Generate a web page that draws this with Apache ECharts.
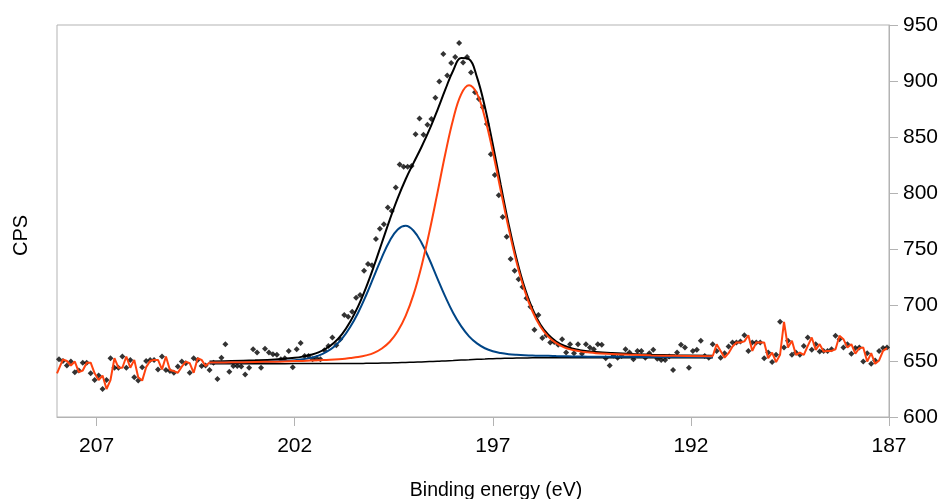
<!DOCTYPE html>
<html>
<head>
<meta charset="utf-8">
<script src="https://cdn.jsdelivr.net/npm/echarts@6/dist/echarts.min.js"></script>
<style>
html,body{margin:0;padding:0;background:#fff;}
#chart{width:944px;height:499px;}
</style>
</head>
<body>
<div id="chart"></div>
<script>
// Measured counts (CPS), one channel every 0.1 eV from 207.95 eV down to 187.05 eV
const counts = [
  651.5, 650, 646, 649.5, 640, 641.5, 648.5, 648.5, 639, 633,
  637, 625, 633, 652.5, 644, 644, 654, 644, 651, 635.5,
  632.5, 644.5, 650, 651, 651, 642.5, 654, 642, 641, 639.5,
  645, 649.5, 648, 639.5, 652.5, 651, 645.5, 646, 642, 648.5,
  634, 653, 665, 640.5, 645.5, 645.5, 645, 638, 644, 660.5,
  657.5, 644, 661, 657.5, 656, 655.5, 651.5, 652.5, 659, 644.5,
  660.5, 666, 654.5, 654.5, 651.5, 652.5, 651.5, 659.5, 663.5, 671,
  664, 669.5, 691, 689.5, 694, 706.5, 709, 730.5, 736.5, 735.5,
  759, 768, 772, 787, 784, 805, 825.5, 823.5, 823.5, 824,
  852.5, 866.5, 852, 861, 866, 885, 899.5, 924, 905, 916,
  921.5, 934, 916.5, 921.5, 907.5, 890, 884, 876.5, 861.5, 834.5,
  816, 798, 778.5, 761, 741, 730.5, 723, 716, 706, 698.5,
  678, 691, 670.5, 673, 666.5, 667, 664.5, 669.5, 657.5, 665,
  657, 665, 656.5, 665, 662, 660.5, 665, 664.5, 652.5, 646,
  655, 653, 654.5, 660.5, 657.5, 651.5, 659, 659, 653, 657,
  660, 652, 651, 651, 654, 642, 657.5, 664.5, 662, 644,
  659, 660, 668, 654.5, 653, 665, 659, 653, 657, 663,
  666.5, 666.5, 667.5, 673, 659, 666.5, 666.5, 666.5, 652.5, 657.5,
  649, 655.5, 685, 662, 668, 655.5, 657.5, 655.5, 663.5, 671,
  660, 665, 658.5, 659, 659, 660.5, 672.5, 669.5, 662, 665,
  656.5, 661.5, 662, 649.5, 657, 647.5, 650.5, 659, 661.5, 662
];
const startEnergy = 207.95;
const stepEnergy = 0.1;
const energy = counts.map((_, i) => +(startEnergy - stepEnergy * i).toFixed(2));

// orange trace value at the left plot edge
const traceLeftStart = 639;
// channel indices bounding the fit window (204.15 eV ... 191.45 eV)
const fitStart = 38;
const fitEnd = 165;

// Fit curves
const fitEnergy = [204.15, 203.6, 203.0, 202.5, 202.0, 201.8, 201.6, 201.4, 201.2, 201.0,
  200.8, 200.6, 200.4, 200.2, 200.0, 199.8, 199.6, 199.4, 199.2, 199.0,
  198.8, 198.6, 198.4, 198.2, 198.0, 197.8, 197.6, 197.4, 197.2, 197.0,
  196.8, 196.6, 196.4, 196.2, 196.0, 195.8, 195.6, 195.4, 195.2, 195.0,
  194.8, 194.6, 194.4, 194.0, 193.5, 193.0, 192.4, 191.45];
const background = [647.6, 647.6, 647.6, 647.6, 647.7, 647.7, 647.7, 647.7, 647.7, 647.7,
  647.7, 647.8, 647.8, 647.9, 648.0, 648.2, 648.3, 648.5, 648.7, 648.9,
  649.2, 649.5, 649.7, 650.1, 650.4, 650.8, 651.1, 651.5, 651.8, 652.1,
  652.3, 652.5, 652.6, 652.7, 652.8, 652.8, 652.9, 652.9, 652.9, 652.9,
  652.9, 652.9, 652.9, 653.0, 653.0, 653.0, 653.0, 653.0];
const peakOrange = [648.6, 648.8, 649.1, 649.4, 649.9, 650.1, 650.4, 650.6, 651.0, 651.3,
  651.8, 652.6, 653.5, 655.0, 657.3, 661.2, 667.2, 676.5, 690.3, 709.5,
  734.7, 765.4, 799.7, 834.8, 865.9, 888.0, 896.1, 888.7, 867.3, 836.8,
  802.3, 768.4, 738.1, 713.3, 694.4, 680.8, 671.8, 665.9, 662.2, 660.0,
  658.6, 657.7, 657.0, 656.3, 655.5, 655.0, 654.6, 654.2];
const peakBlue = [648.5, 648.8, 649.1, 649.6, 650.7, 651.5, 652.8, 654.8, 658.1, 663.0,
  670.2, 680.3, 693.1, 708.5, 725.5, 742.6, 757.4, 767.4, 770.7, 766.3,
  755.6, 740.6, 723.8, 707.5, 692.9, 681.1, 672.0, 665.7, 661.4, 658.7,
  657.1, 656.1, 655.5, 655.1, 654.9, 654.6, 654.6, 654.4, 654.3, 654.1,
  654.0, 653.9, 653.9, 653.8, 653.7, 653.6, 653.5, 653.4];
const envelope = [649.5, 650.0, 650.6, 651.4, 652.9, 653.9, 655.5, 657.7, 661.4, 666.6,
  674.3, 685.1, 698.8, 715.6, 734.8, 755.6, 776.3, 795.4, 812.3, 826.9,
  841.1, 856.5, 873.8, 892.2, 909.4, 920.5, 919.5, 903.5, 876.9, 843.4,
  807.1, 772.0, 741.0, 715.7, 696.5, 682.6, 673.5, 667.4, 663.6, 661.2,
  659.7, 658.7, 658.0, 657.1, 656.2, 655.6, 655.1, 654.6];

const xTicks = [187, 192, 197, 202, 207];
const xMin = 187, xMax = 208;
const yMin = 600, yMax = 950, yStep = 50;

const pair = (xs, ys) => xs.map((x, i) => [x, ys[i]]);
const scatterData = pair(energy, counts);

const orangeLeft = [[xMax, traceLeftStart]];
for (let i = 1; i < fitStart; i++) orangeLeft.push([energy[i], counts[i - 1]]);
orangeLeft.push([fitEnergy[0], peakOrange[0]]);
const orangeRight = [[fitEnergy[fitEnergy.length - 1], peakOrange[peakOrange.length - 1]]];
for (let i = fitEnd + 1; i < counts.length; i++) orangeRight.push([energy[i], counts[i - 1]]);

const FONT = '"Liberation Sans", Arial, sans-serif';
const AXIS_GRAY = '#b3b3b3';
const ORANGE = '#ff420e';
const BLUE = '#004586';

const chart = echarts.init(document.getElementById('chart'), null, {renderer: 'canvas'});
const lineBase = {type: 'line', showSymbol: false, symbol: 'none', silent: true, animation: false};

chart.setOption({
  animation: false,
  backgroundColor: '#ffffff',
  grid: {left: 57, right: 55, top: 25, bottom: 82, show: true, borderColor: AXIS_GRAY, borderWidth: 1,
         backgroundColor: 'transparent', containLabel: false, outerBoundsMode: 'none'},
  xAxis: {
    type: 'value', min: xMin, max: xMax, inverse: true,
    axisLine: {show: true, onZero: false, lineStyle: {color: AXIS_GRAY, width: 1}},
    axisTick: {show: true, length: 9, lineStyle: {color: AXIS_GRAY}, customValues: xTicks},
    axisLabel: {customValues: xTicks, margin: 19, fontSize: 21, color: '#000', fontFamily: FONT},
    splitLine: {show: false}
  },
  yAxis: {
    type: 'value', position: 'right', min: yMin, max: yMax, interval: yStep,
    axisLine: {show: true, onZero: false, lineStyle: {color: AXIS_GRAY, width: 1}},
    axisTick: {show: true, length: 9, lineStyle: {color: AXIS_GRAY}},
    axisLabel: {margin: 14, fontSize: 21, color: '#000', fontFamily: FONT},
    splitLine: {show: false}
  },
  graphic: [
    {type: 'text', x: 21, y: 235.5, rotation: Math.PI / 2,
     style: {text: 'CPS', font: '20px ' + FONT, fill: '#000', textAlign: 'center', textVerticalAlign: 'middle'}},
    {type: 'text', x: 496, y: 491,
     style: {text: 'Binding energy (eV)', font: '19.5px ' + FONT, fill: '#000', textAlign: 'center', textVerticalAlign: 'middle'}}
  ],
  series: [
    Object.assign({}, lineBase, {name: 'background', data: pair(fitEnergy, background), smooth: 0.4,
      lineStyle: {color: '#000', width: 1.5}}),
    Object.assign({}, lineBase, {name: 'envelope', data: pair(fitEnergy, envelope), smooth: 0.4,
      lineStyle: {color: '#000', width: 2}}),
    Object.assign({}, lineBase, {name: 'peak 2', data: pair(fitEnergy, peakBlue), smooth: 0.4,
      lineStyle: {color: BLUE, width: 2}}),
    Object.assign({}, lineBase, {name: 'peak 1', data: pair(fitEnergy, peakOrange), smooth: 0.4,
      lineStyle: {color: ORANGE, width: 2}}),
    Object.assign({}, lineBase, {name: 'trace left', data: orangeLeft, smooth: false,
      lineStyle: {color: ORANGE, width: 2}}),
    Object.assign({}, lineBase, {name: 'trace right', data: orangeRight, smooth: false,
      lineStyle: {color: ORANGE, width: 2}}),
    {type: 'scatter', name: 'data', data: scatterData, symbol: 'diamond', symbolSize: 6,
     itemStyle: {color: '#000'}, silent: true, animation: false}
  ]
});
</script>
</body>
</html>
